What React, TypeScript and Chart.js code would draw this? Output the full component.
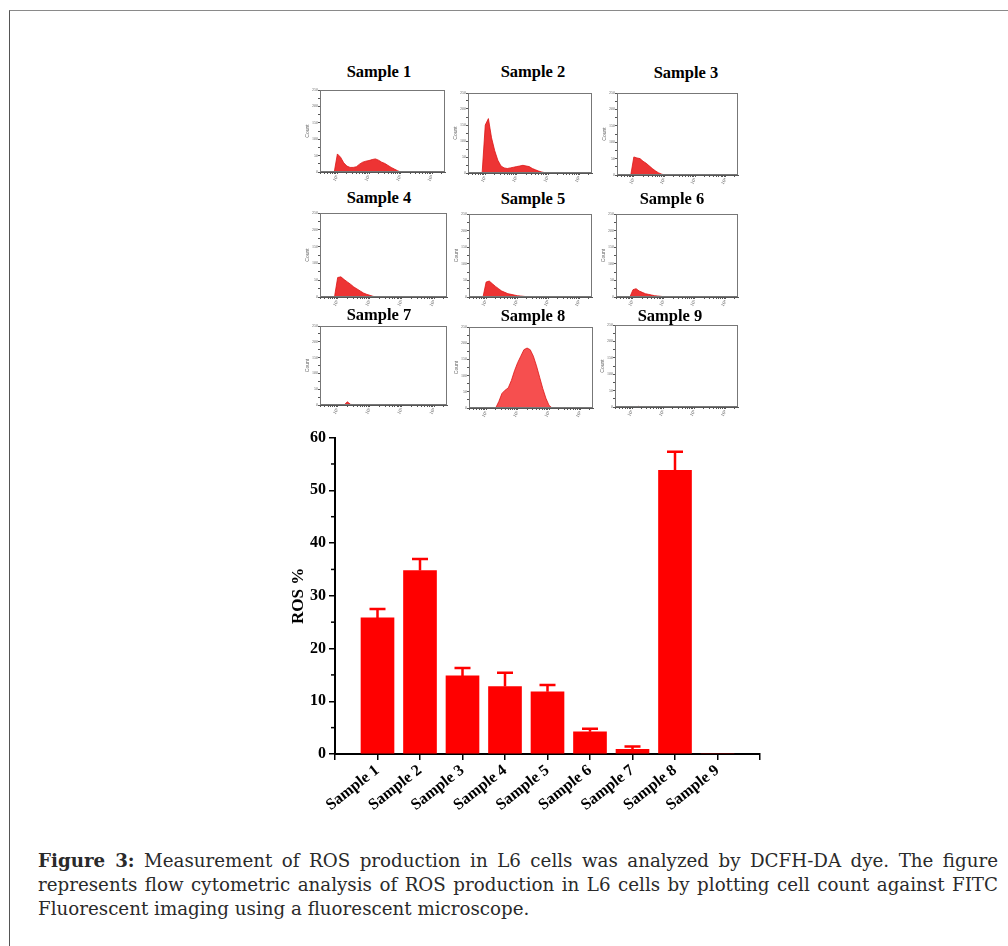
import React, { useEffect, useRef } from "react";
import { Chart, registerables } from "chart.js";

Chart.register(...registerables);

// ---------- data ----------
const CATEGORIES = ["Sample 1", "Sample 2", "Sample 3", "Sample 4", "Sample 5", "Sample 6", "Sample 7", "Sample 8", "Sample 9"];
const ROS_VALUES = [25.8, 34.8, 14.8, 12.8, 11.8, 4.2, 0.9, 53.8, 0];
const ROS_ERR = [1.7, 2.2, 1.5, 2.6, 1.3, 0.6, 0.5, 3.5, 0];
const Y_TICKS = [0, 10, 20, 30, 40, 50, 60];
const Y_MINOR = [5, 15, 25, 35, 45, 55];

// histogram x positions (log10 of FITC intensity)
const HIST_X = [0.9, 1.0, 1.1, 1.2, 1.3, 1.4, 1.5, 1.6, 1.7, 1.8, 1.9, 2.0, 2.1, 2.2, 2.3, 2.4, 2.5, 2.6, 2.7, 2.8, 2.9, 3.0, 3.1, 3.2, 3.3, 3.4];
const HIST_1 = [0, 55, 45, 28, 18, 14, 14, 16, 24, 30, 33, 35, 38, 40, 36, 30, 26, 20, 14, 9, 4, 0, 0, 0, 0, 0];
const HIST_2 = [0, 150, 170, 110, 70, 40, 22, 16, 14, 16, 18, 20, 22, 24, 22, 20, 14, 10, 6, 3, 1, 0, 0, 0, 0, 0];
const HIST_3 = [0, 55, 52, 50, 42, 36, 28, 20, 13, 7, 3, 0, 0, 0, 0, 0, 0, 0, 0, 0, 0, 0, 0, 0, 0, 0];
const HIST_4 = [0, 58, 60, 52, 45, 38, 30, 24, 18, 12, 8, 5, 2, 0, 0, 0, 0, 0, 0, 0, 0, 0, 0, 0, 0, 0];
const HIST_5 = [0, 45, 48, 40, 32, 25, 18, 14, 10, 8, 6, 4, 3, 2, 1, 0, 0, 0, 0, 0, 0, 0, 0, 0, 0, 0];
const HIST_6 = [0, 22, 25, 18, 14, 10, 8, 6, 4, 3, 2, 1, 0, 0, 0, 0, 0, 0, 0, 0, 0, 0, 0, 0, 0, 0];
const HIST_7 = [0, 0, 0, 0, 10, 2, 1, 1, 1, 1, 1, 1, 1, 1, 1, 1, 1, 0, 0, 0, 0, 0, 0, 0, 0, 0];
const HIST_8 = [0, 0, 0, 0, 0, 20, 45, 55, 62, 85, 115, 140, 160, 180, 185, 180, 160, 130, 95, 60, 30, 8, 0, 0, 0, 0];
const HIST_9 = [0, 0, 0, 2, 0, 0, 0, 0, 0, 0, 0, 0, 0, 0, 0, 0, 0, 0, 0, 0, 0, 0, 0, 0, 0, 0];
const HISTS = [HIST_1, HIST_2, HIST_3, HIST_4, HIST_5, HIST_6, HIST_7, HIST_8, HIST_9];
const HIST_Y_MAX = 250;

// ---------- layout (page coordinates) ----------
const HIST_LAYOUT = [
  { l: 320, t: 90, w: 125, h: 82, tx: 379, ty: 72 },
  { l: 468, t: 93, w: 124, h: 80, tx: 533, ty: 72 },
  { l: 617, t: 93, w: 121, h: 82, tx: 686, ty: 73 },
  { l: 320, t: 213, w: 127, h: 84, tx: 379, ty: 198 },
  { l: 469, t: 214, w: 123, h: 83, tx: 533, ty: 199 },
  { l: 616, t: 214, w: 122, h: 83, tx: 672, ty: 199 },
  { l: 320, t: 326, w: 127, h: 79, tx: 379, ty: 315 },
  { l: 469, t: 327, w: 124, h: 81, tx: 533, ty: 316 },
  { l: 615, t: 325, w: 123, h: 82, tx: 670, ty: 316 },
];

const SERIF = "'Liberation Serif', 'Times New Roman', serif";

const framePlugin = {
  id: "frame",
  afterDraw(chart: any) {
    const { ctx, chartArea } = chart;
    ctx.save();
    ctx.strokeStyle = "#777";
    ctx.lineWidth = 1;
    ctx.strokeRect(chartArea.left + 0.5, chartArea.top + 0.5, chartArea.right - chartArea.left - 1, chartArea.bottom - chartArea.top - 1);
    ctx.restore();
  },
};

const SUP = ["⁰", "¹", "²", "³", "⁴"];

function MiniHist({ idx }: { idx: number }) {
  const ref = useRef<HTMLCanvasElement>(null);
  const lay = HIST_LAYOUT[idx];
  const LEFT = 16, BOTTOM = 14, TOP = 4, RIGHT = 4;
  const cw = lay.w + LEFT + RIGHT;
  const ch = lay.h + TOP + BOTTOM;
  useEffect(() => {
    if (!ref.current) return;
    const counts = HISTS[idx];
    const color = idx === 7 ? "rgba(245,70,70,0.95)" : "rgba(235,30,30,0.9)";
    const chart = new Chart(ref.current, {
      type: "line",
      data: {
        datasets: [
          {
            data: HIST_X.map((x, i) => ({ x, y: counts[i] })),
            fill: "origin",
            backgroundColor: color,
            borderColor: "rgba(220,20,20,1)",
            borderWidth: 0.8,
            pointRadius: 0,
            tension: 0,
          },
        ],
      },
      options: {
        animation: false,
        responsive: false,
        events: [],
        layout: { padding: { top: TOP, right: RIGHT, left: 0, bottom: 0 } },
        plugins: { legend: { display: false }, tooltip: { enabled: false } },
        scales: {
          x: {
            type: "linear",
            min: 0.45,
            max: 4.4,
            afterBuildTicks: (s: any) => {
              const t: any[] = [];
              for (let d = 0; d <= 4; d++) {
                for (let k = 1; k <= 9; k++) {
                  const v = d + Math.log10(k);
                  if (v >= 0.45 && v <= 4.4) t.push({ value: v });
                }
              }
              s.ticks = t;
            },
            afterFit: (s: any) => {
              s.height = BOTTOM;
            },
            ticks: {
              autoSkip: false,
              maxRotation: 60,
              minRotation: 60,
              padding: 0,
              font: { size: 5, family: SERIF },
              color: "#666",
              callback: (v: any) => {
                const r = Math.round(v);
                return Math.abs(v - r) < 1e-6 && r >= 1 ? "10" + SUP[r] : "";
              },
            },
            grid: { drawOnChartArea: false, tickLength: 2, color: "#555" },
            border: { display: true, color: "#555" },
          },
          y: {
            min: 0,
            max: HIST_Y_MAX,
            afterFit: (s: any) => {
              s.width = LEFT;
            },
            ticks: {
              stepSize: 25,
              padding: 0,
              font: { size: 4, family: SERIF },
              color: "#666",
              callback: (v: any) => (v % 50 === 0 ? String(v) : ""),
            },
            grid: { drawOnChartArea: false, tickLength: 2, color: "#555" },
            border: { display: true, color: "#555" },
            title: { display: true, text: "Count", font: { size: 5 }, color: "#666", padding: { top: 1, bottom: 0 } },
          },
        },
      },
      plugins: [framePlugin],
    } as any);
    return () => chart.destroy();
  }, [idx]);
  return (
    <>
      <div
        style={{
          position: "absolute",
          left: lay.tx - 60,
          width: 120,
          top: lay.ty - 11,
          textAlign: "center",
          fontFamily: SERIF,
          fontWeight: "bold",
          fontSize: 16.5,
          lineHeight: "22px",
          color: "#000",
        }}
      >
        {CATEGORIES[idx]}
      </div>
      <canvas
        ref={ref}
        width={cw}
        height={ch}
        style={{ position: "absolute", left: lay.l - LEFT, top: lay.t - TOP, width: cw, height: ch }}
      />
    </>
  );
}

const minorTickPlugin = {
  id: "minorTicks",
  afterDraw(chart: any) {
    const { ctx } = chart;
    const ys = chart.scales.y;
    ctx.save();
    ctx.strokeStyle = "#000";
    ctx.lineWidth = 1.5;
    Y_MINOR.forEach((v) => {
      const y = ys.getPixelForValue(v);
      ctx.beginPath();
      ctx.moveTo(ys.right - 4, y);
      ctx.lineTo(ys.right, y);
      ctx.stroke();
    });
    ctx.restore();
  },
};

const errorBarPlugin = {
  id: "errorBars",
  afterDatasetsDraw(chart: any) {
    const { ctx } = chart;
    const ys = chart.scales.y;
    const meta = chart.getDatasetMeta(0);
    ctx.save();
    ctx.strokeStyle = "#ff0000";
    ctx.lineWidth = 2.5;
    ROS_VALUES.forEach((v, i) => {
      const err = ROS_ERR[i];
      if (!err) return;
      const bar = meta.data[i + 1];
      if (!bar) return;
      const yTop = ys.getPixelForValue(v + err);
      const yBar = ys.getPixelForValue(v);
      ctx.beginPath();
      ctx.moveTo(bar.x, yBar);
      ctx.lineTo(bar.x, yTop);
      ctx.moveTo(bar.x - 8, yTop);
      ctx.lineTo(bar.x + 8, yTop);
      ctx.stroke();
    });
    ctx.restore();
  },
};

function BarChart() {
  const ref = useRef<HTMLCanvasElement>(null);
  const CL = 280, CT = 425, CW = 500, CH = 395;
  useEffect(() => {
    if (!ref.current) return;
    const labels = ["", ...CATEGORIES, ""];
    const chart = new Chart(ref.current, {
      type: "bar",
      data: {
        labels,
        datasets: [
          {
            data: [null, ...ROS_VALUES, null],
            backgroundColor: "#ff0000",
            borderWidth: 0,
            barThickness: 33,
          },
        ],
      },
      options: {
        animation: false,
        responsive: false,
        events: [],
        layout: { padding: { top: 12, right: 20, left: 0, bottom: 0 } },
        plugins: { legend: { display: false }, tooltip: { enabled: false } },
        scales: {
          x: {
            type: "category",
            offset: false,
            afterFit: (s: any) => {
              s.height = 66;
            },
            ticks: {
              autoSkip: false,
              maxRotation: 38,
              minRotation: 38,
              padding: 1,
              color: "#000",
              font: { family: SERIF, weight: "bold", size: 16 },
            },
            grid: { offset: false, drawOnChartArea: false, tickLength: 6, color: "#000", lineWidth: 1.5 },
            border: { display: true, color: "#000", width: 2 },
          },
          y: {
            min: 0,
            max: 60,
            afterBuildTicks: (s: any) => {
              s.ticks = Y_TICKS.map((v) => ({ value: v }));
            },
            afterFit: (s: any) => {
              s.width = 55;
            },
            ticks: {
              padding: 3,
              color: "#000",
              font: { family: SERIF, weight: "bold", size: 16 },
            },
            grid: { drawOnChartArea: false, tickLength: 6, color: "#000", lineWidth: 1.5 },
            border: { display: true, color: "#000", width: 2 },
            title: {
              display: true,
              text: "ROS %",
              color: "#000",
              font: { family: SERIF, weight: "bold", size: 17 },
              padding: { top: 8, bottom: 0 },
            },
          },
        },
      },
      plugins: [minorTickPlugin, errorBarPlugin],
    } as any);
    return () => chart.destroy();
  }, []);
  return (
    <canvas ref={ref} width={CW} height={CH} style={{ position: "absolute", left: CL, top: CT, width: CW, height: CH }} />
  );
}

const CAPTION_FONT = "'DejaVu Serif', serif";

export default function App() {
  const capLine: React.CSSProperties = {
    textAlign: "justify",
    textAlignLast: "justify",
    height: 24,
  };
  return (
    <div style={{ position: "absolute", left: 0, top: 0, width: 1008, height: 946, overflow: "hidden", background: "#fff" }}>
      <div
        style={{
          position: "absolute",
          left: 9,
          top: 10,
          width: 1100,
          height: 1100,
          borderTop: "1px solid #8a8a8a",
          borderLeft: "1px solid #555",
        }}
      />
      {HIST_LAYOUT.map((_, i) => (
        <MiniHist key={i} idx={i} />
      ))}
      <BarChart />
      <div
        style={{
          position: "absolute",
          left: 38,
          top: 849,
          width: 960,
          fontFamily: CAPTION_FONT,
          fontSize: 18.25,
          lineHeight: "24px",
          color: "#2a2a2a",
        }}
      >
        <div style={capLine}>
          <b>Figure 3:</b> Measurement of ROS production in L6 cells was analyzed by DCFH-DA dye. The figure
        </div>
        <div style={capLine}>
          represents flow cytometric analysis of ROS production in L6 cells by plotting cell count against FITC
        </div>
        <div style={{ height: 24, whiteSpace: "nowrap" }}>Fluorescent imaging using a fluorescent microscope.</div>
      </div>
    </div>
  );
}
